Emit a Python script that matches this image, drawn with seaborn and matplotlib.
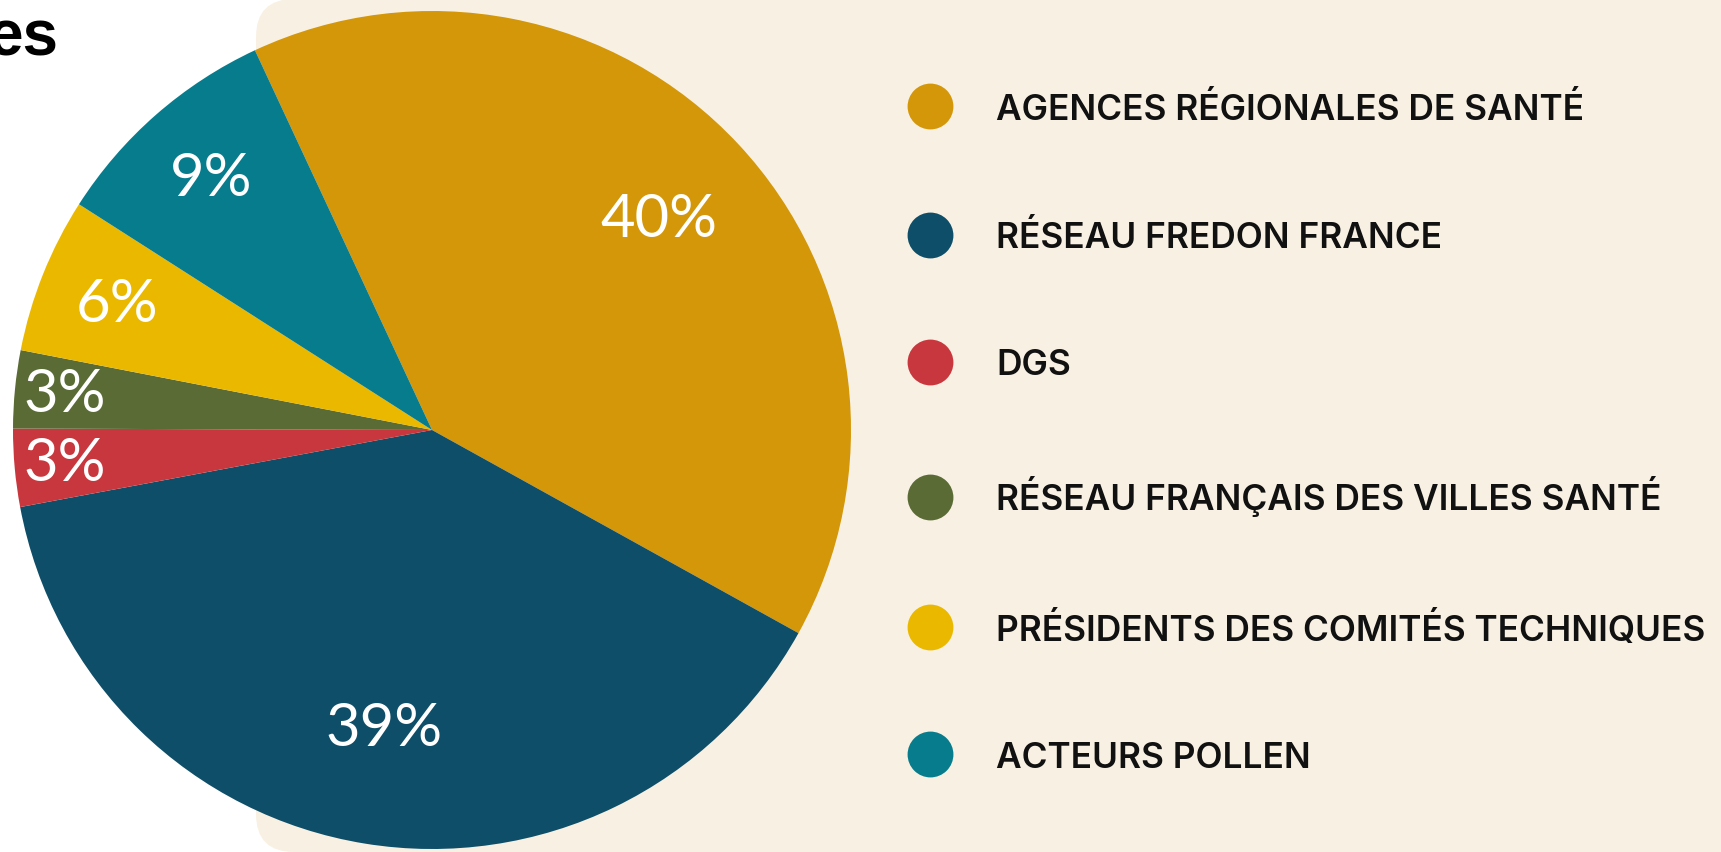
import matplotlib
matplotlib.use("Agg")
import matplotlib.pyplot as plt
import seaborn as sns
from matplotlib.patches import FancyBboxPatch
from matplotlib.lines import Line2D
import numpy as np

# data
categories = [
    "AGENCES RÉGIONALES DE SANTÉ",
    "RÉSEAU FREDON FRANCE",
    "DGS",
    "RÉSEAU FRANÇAIS DES VILLES SANTÉ",
    "PRÉSIDENTS DES COMITÉS TECHNIQUES",
    "ACTEURS POLLEN",
]
shares = [40, 39, 3, 3, 6, 9]
pct_labels = ["40%", "39%", "3%", "3%", "6%", "9%"]
colors = ["#D4970A", "#0E4E68", "#C8373D", "#5A6B35", "#EBB800", "#077C8D"]

# radial position of each percentage label (fraction of radius)
label_dist = [0.74, 0.72, 0.88, 0.88, 0.81, 0.80]

sns.set_style("white")
palette = sns.color_palette(colors)

W, H = 1721, 853
fig = plt.figure(figsize=(W / 100, H / 100), dpi=100)
ax = fig.add_axes([0, 0, 1, 1])

# cream panel behind the chart
panel = FancyBboxPatch((256, 0), 1600, H, boxstyle="round,pad=0,rounding_size=38",
                       facecolor="#F8F1E3", edgecolor="none", zorder=0)
ax.add_patch(panel)

cx, cy, r = 432, H - 431, 419
wedges, _ = ax.pie(shares, colors=palette, startangle=115, counterclock=False,
                   center=(cx, cy), radius=r, frame=True,
                   wedgeprops=dict(linewidth=0))
ax.set_xlim(0, W)
ax.set_ylim(0, H)
ax.set_aspect("equal")
ax.axis("off")

for w, lab, d in zip(wedges, pct_labels, label_dist):
    ang = np.deg2rad((w.theta1 + w.theta2) / 2)
    ax.text(cx + d * r * np.cos(ang), cy + d * r * np.sin(ang), lab,
            color="white", fontsize=43, family="Lato", ha="center", va="center")

# cut-off title fragment at top-left
ax.text(58, H - 55, "es", fontsize=46, fontweight="bold", family="Liberation Sans",
        ha="right", va="baseline", color="black")

handles = [Line2D([0], [0], marker="o", linestyle="none", markersize=33,
                  markerfacecolor=c, markeredgecolor="none") for c in palette]
leg = ax.legend(handles, categories, loc="upper left", bbox_to_anchor=(874 / W, 1 - 61 / H),
                frameon=False, labelspacing=2.67, handlelength=1.4, handletextpad=1.17,
                prop=dict(family="Inter", weight="semibold", size=25.4))
for t in leg.get_texts():
    t.set_color("#111111")

fig.savefig("out.png", dpi=100)
